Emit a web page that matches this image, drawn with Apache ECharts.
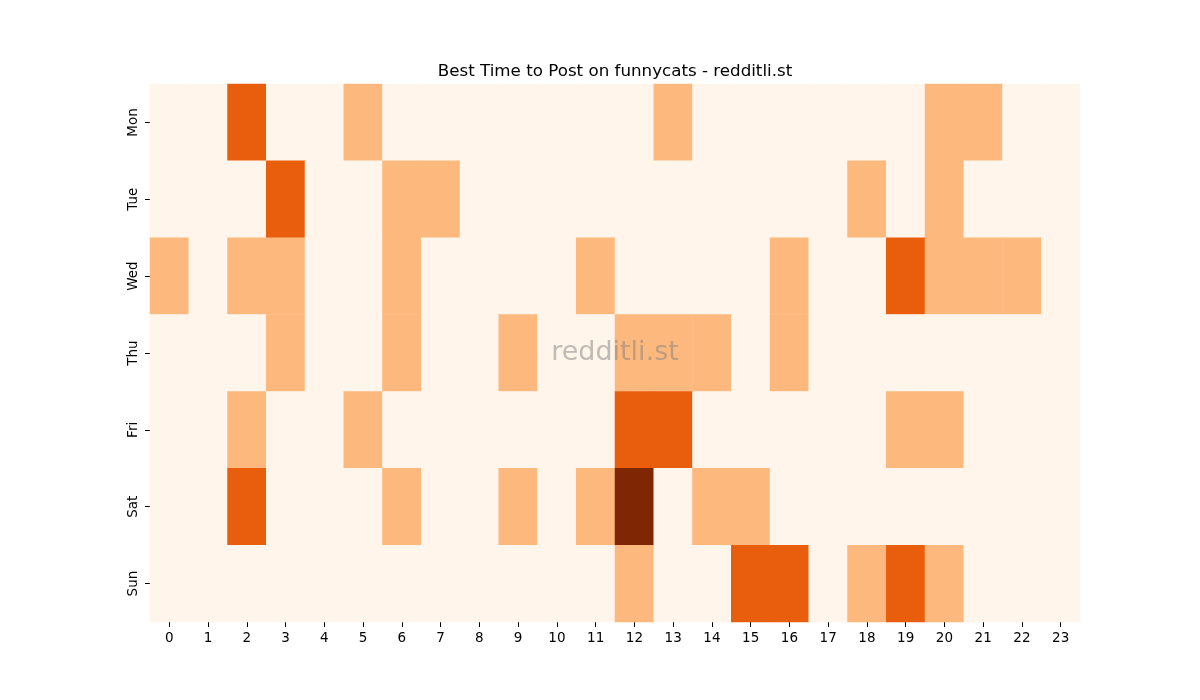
<!DOCTYPE html>
<html>
<head>
<meta charset="utf-8">
<script src="https://cdn.jsdelivr.net/npm/echarts@6/dist/echarts.min.js"></script>
<style>
  html, body { margin: 0; padding: 0; background: #fff; }
  #main { width: 1200px; height: 700px; }
</style>
</head>
<body>
<div id="main"></div>
<script>
// hours and days
var hours = ['0','1','2','3','4','5','6','7','8','9','10','11','12','13','14','15','16','17','18','19','20','21','22','23'];
var days = ['Mon', 'Tue', 'Wed', 'Thu', 'Fri', 'Sat', 'Sun'];

// activity level per hour (0..3)
var mon = [0,0,2,0,0,1,0,0,0,0,0,0,0,1,0,0,0,0,0,0,1,1,0,0];
var tue = [0,0,0,2,0,0,1,1,0,0,0,0,0,0,0,0,0,0,1,0,1,0,0,0];
var wed = [1,0,1,1,0,0,1,0,0,0,0,1,0,0,0,0,1,0,0,2,1,1,1,0];
var thu = [0,0,0,1,0,0,1,0,0,1,0,0,1,1,1,0,1,0,0,0,0,0,0,0];
var fri = [0,0,1,0,0,1,0,0,0,0,0,0,2,2,0,0,0,0,0,1,1,0,0,0];
var sat = [0,0,2,0,0,0,1,0,0,1,0,1,3,0,1,1,0,0,0,0,0,0,0,0];
var sun = [0,0,0,0,0,0,0,0,0,0,0,0,1,0,0,2,2,0,1,2,1,0,0,0];

var rows = [mon, tue, wed, thu, fri, sat, sun];
var data = [];
for (var d = 0; d < rows.length; d++) {
    for (var h = 0; h < hours.length; h++) {
        data.push([h, d, rows[d][h]]);
    }
}

var myChart = echarts.init(document.getElementById('main'));
var font = 'DejaVu Sans';
var option = {
    backgroundColor: '#ffffff',
    animation: false,
    title: {
        text: 'Best Time to Post on funnycats - redditli.st',
        left: 610,
        top: 58,
        textAlign: 'center',
        textStyle: { fontFamily: font, fontSize: 16.7, fontWeight: 'normal', color: '#000' }
    },
    grid: { left: 150, right: 120, top: 84, bottom: 78 },
    xAxis: {
        type: 'category',
        data: hours,
        axisLine: { show: false },
        axisTick: { show: true, alignWithLabel: true, length: 5, lineStyle: { color: '#000' } },
        axisLabel: { fontFamily: font, fontSize: 13.5, color: '#000', margin: 9 },
        splitLine: { show: false }
    },
    yAxis: {
        type: 'category',
        data: days,
        inverse: true,
        axisLine: { show: false },
        axisTick: { show: true, alignWithLabel: true, length: 5, lineStyle: { color: '#000' } },
        axisLabel: { fontFamily: font, fontSize: 13.5, color: '#000', rotate: 90, margin: 10 },
        splitLine: { show: false }
    },
    visualMap: {
        show: false,
        type: 'piecewise',
        dimension: 2,
        pieces: [
            { value: 0, color: '#fff5eb' },
            { value: 1, color: '#fdb97d' },
            { value: 2, color: '#e95e0d' },
            { value: 3, color: '#7f2704' }
        ]
    },
    graphic: [{
        type: 'text',
        x: 615,
        y: 353,
        style: {
            text: 'redditli.st',
            fontFamily: font,
            fontSize: 27,
            fill: 'rgba(128,128,128,0.5)',
            align: 'center',
            verticalAlign: 'middle'
        },
        z: 100
    }],
    series: [{
        type: 'heatmap',
        data: data,
        itemStyle: { borderWidth: 0 },
        emphasis: { disabled: true }
    }]
};
myChart.setOption(option);
</script>
</body>
</html>
